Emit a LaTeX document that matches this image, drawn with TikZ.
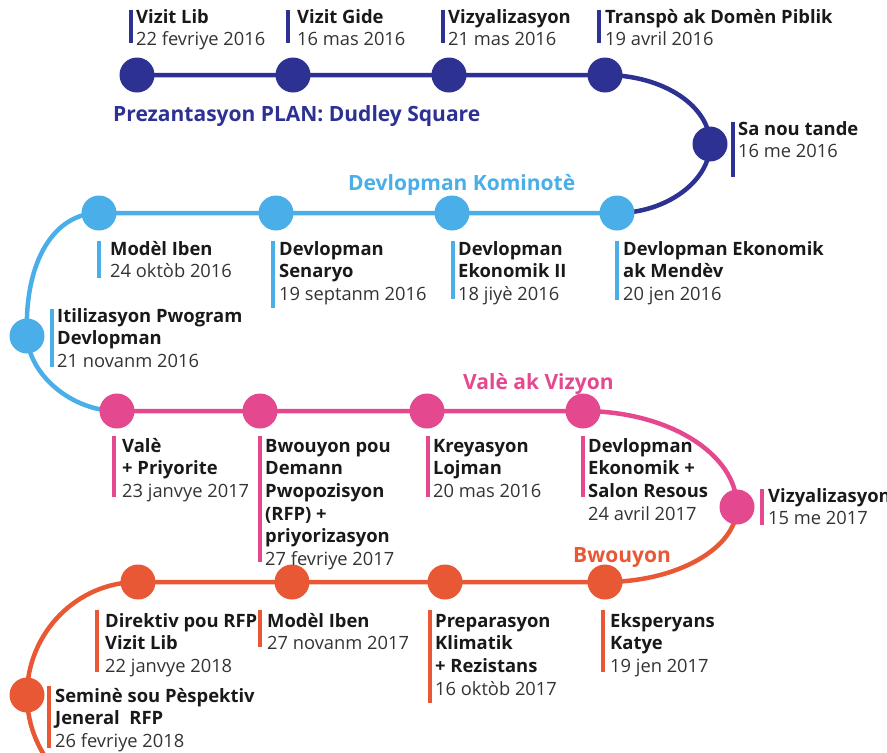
\documentclass[tikz,border=0pt]{standalone}
\usepackage{fontspec}
\setmainfont{Open Sans}
\usetikzlibrary{backgrounds}
\definecolor{cnavy}{RGB}{45,49,146}
\definecolor{cblue}{RGB}{74,174,232}
\definecolor{cpink}{RGB}{228,73,143}
\definecolor{corange}{RGB}{233,88,52}
\definecolor{ctitle}{RGB}{25,25,25}
\definecolor{cdate}{RGB}{51,51,51}
\newcommand\lab[5]{\node[lbl] (#1) at (#2,{#3-15.9}) {\strut #4\\{\fontsize{18.3}{22.7}\selectfont\mdseries\color{cdate}#5}};}
\begin{document}
\begin{tikzpicture}[x=1pt,y=-1pt,
  dot/.style={circle,fill=#1,minimum size=35pt,inner sep=0},
  track/.style={draw=#1,line width=4.5pt},
  bar/.style={draw=#1,line width=4pt},
  lbl/.style={anchor=north west,inner sep=0,align=left,text=ctitle,font=\fontsize{18.4}{22.7}\selectfont\bfseries},
  cat/.style={anchor=base west,inner sep=0,text=#1,font=\fontsize{21}{25}\selectfont\bfseries}]
\useasboundingbox (0,0) rectangle (887,753);

% dots
\node[dot=cnavy] (n1) at (137,75) {};
\node[dot=cnavy] (n2) at (293,75) {};
\node[dot=cnavy] (n3) at (449,75) {};
\node[dot=cnavy] (n4) at (605,75) {};
\node[dot=cnavy] (n5) at (710,144) {};
\node[dot=cblue] (b1) at (617,213) {};
\node[dot=cblue] (b2) at (452,213) {};
\node[dot=cblue] (b3) at (276,213) {};
\node[dot=cblue] (b4) at (99,213) {};
\node[dot=cblue] (b5) at (27,336) {};
\node[dot=cpink] (p1) at (117,411) {};
\node[dot=cpink] (p2) at (260,411) {};
\node[dot=cpink] (p3) at (427,411) {};
\node[dot=cpink] (p4) at (583,411) {};
\node[dot=cpink] (p5) at (737,507) {};
\node[dot=corange] (o1) at (605,582) {};
\node[dot=corange] (o2) at (445,582) {};
\node[dot=corange] (o3) at (292,582) {};
\node[dot=corange] (o4) at (138,582) {};
\node[dot=corange] (o5) at (27,695) {};
\coordinate (oend) at (138,808);

% tracks
\begin{scope}[on background layer]
\draw[track=cnavy] (n1.center) -- (n4.center) .. controls (663,75) and (710,106) .. (n5.center) .. controls (710,182) and (665,213) .. (b1.center);
\draw[track=cblue] (b1.center) -- (b4.center) .. controls (55,213) and (24,260) .. (b5.center) .. controls (29,375) and (72,411) .. (p1.center);
\draw[track=cpink] (p1.center) -- (p4.center) .. controls (667,411) and (737,453) .. (p5.center);
\draw[track=corange] (p5.center) .. controls (737,548) and (677,582) .. (o1.center) -- (o4.center) .. controls (77,582) and (27,633) .. (o5.center) .. controls (27,757) and (77,808) .. (oend);
\end{scope}

% category labels
\node[cat=cnavy] (c1) at (113,121) {Prezantasyon PLAN: Dudley Square};
\node[cat=cblue] (c2) at (348,190) {Devlopman Kominotè};
\node[cat=cpink] (c3) at (463,389) {Valè ak Vizyon};
\node[cat=corange] (c4) at (573,562) {Bwouyon};

% navy labels
\draw[bar=cnavy] (131,10) -- (131,43);
\lab{l1}{136}{23}{Vizit Lib}{22 fevriye 2016}
\draw[bar=cnavy] (288,10) -- (288,43);
\lab{l2}{297}{23}{Vizit Gide}{16 mas 2016}
\draw[bar=cnavy] (443,10) -- (443,43);
\lab{l3}{448}{23}{Vizyalizasyon}{21 mas 2016}
\draw[bar=cnavy] (599,10) -- (599,43);
\lab{l4}{605}{23}{Transpò ak Domèn Piblik}{19 avril 2016}
\draw[bar=cnavy] (733,122) -- (733,177);
\lab{l5}{738}{135}{Sa nou tande}{16 me 2016}

% blue labels
\draw[bar=cblue] (617,241) -- (617,300);
\lab{l6}{623}{255}{Devlopman Ekonomik\\ak Mendèv}{20 jen 2016}
\draw[bar=cblue] (453,241) -- (453,299);
\lab{l7}{458}{255}{Devlopman\\Ekonomik II}{18 jiyè 2016}
\draw[bar=cblue] (273,241) -- (273,308);
\lab{l8}{279}{255}{Devlopman\\Senaryo}{19 septanm 2016}
\draw[bar=cblue] (99,241) -- (99,278);
\lab{l9}{110}{255}{Modèl Iben}{24 oktòb 2016}
\draw[bar=cblue] (52,309) -- (52,367);
\lab{l10}{57}{322}{Itilizasyon Pwogram\\Devlopman}{21 novanm 2016}

% pink labels
\draw[bar=cpink] (114,436) -- (114,497);
\lab{l11}{122}{452}{Valè\\+ Priyorite}{23 janvye 2017}
\draw[bar=cpink] (260,436) -- (260,562);
\lab{l12}{265}{452}{Bwouyon pou\\Demann\\Pwopozisyon\\(RFP) +\\priyorizasyon}{27 fevriye 2017}
\draw[bar=cpink] (428,436) -- (428,497);
\lab{l13}{433}{452}{Kreyasyon\\Lojman}{20 mas 2016}
\draw[bar=cpink] (583,436) -- (583,497);
\lab{l14}{588}{452}{Devlopman\\Ekonomik +\\Salon Resous}{24 avril 2017}
\draw[bar=cpink] (762,489) -- (762,525);
\lab{l15}{768}{502}{Vizyalizasyon}{15 me 2017}

% orange labels
\draw[bar=corange] (603,610) -- (603,672);
\lab{l16}{610}{627}{Eksperyans\\Katye}{19 jen 2017}
\draw[bar=corange] (430,610) -- (430,703);
\lab{l17}{435}{627}{Preparasyon\\Klimatik\\+ Rezistans}{16 oktòb 2017}
\draw[bar=corange] (260,610) -- (260,647);
\lab{l18}{267}{627}{Modèl Iben}{27 novanm 2017}
\draw[bar=corange] (97,610) -- (97,672);
\lab{l19}{105}{627}{Direktiv pou RFP\\Vizit Lib}{22 janvye 2018}
\draw[bar=corange] (49,686) -- (49,748);
\lab{l20}{55}{702}{Seminè sou Pèspektiv\\Jeneral\ \ RFP}{26 fevriye 2018}
\end{tikzpicture}
\end{document}
